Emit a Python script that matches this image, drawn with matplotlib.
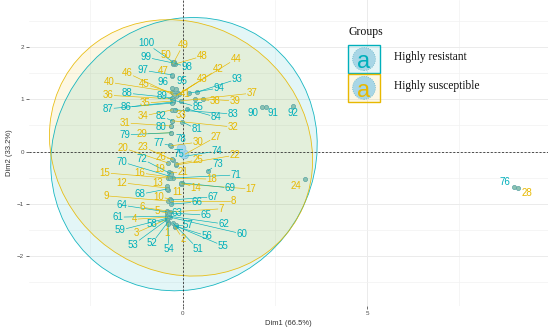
import numpy as np
import matplotlib
matplotlib.use("Agg")
import matplotlib.pyplot as plt
from matplotlib.patches import Ellipse, Rectangle

plt.rcParams['font.family'] = ['Liberation Sans', 'DejaVu Sans']

# PCA individuals: 1-50 highly susceptible, 51-100 highly resistant
ids = list(range(1, 101))
groups = ['Highly susceptible'] * 50 + ['Highly resistant'] * 50

pt_x = [-0.39, -0.20, -0.42, -0.42, -0.42, -0.42, -0.34, -0.31, -0.39, -0.34,
        -0.39, -0.42, -0.42, -0.01, -0.39, -0.34, -0.04, -0.26, -0.37, -0.39,
        -0.31, -0.18, -0.26, 3.32, -0.18, -0.28, 0.07, 9.09, -0.31, -0.31,
        -0.31, -0.28, -0.20, -0.28, -0.26, -0.28, -0.04, 0.34, 0.56, -0.28,
        -0.12, -0.15, -0.09, -0.18, -0.26, -0.23, -0.28, -0.20, -0.23, -0.26,
        -0.26, -0.39, -0.42, -0.39, -0.18, -0.20, -0.18, -0.42, -0.42, -0.34,
        -0.42, -0.37, -0.39, -0.42, -0.37, -0.31, -0.31, -0.42, -0.04, -0.37,
        -0.34, -0.31, 0.69, 0.07, 0.04, 8.98, -0.34, -0.01, -0.31, -0.31,
        -0.01, -0.28, -0.20, 0.12, -0.26, -0.26, -0.28, -0.28, -0.26, 2.15,
        2.26, 3.00, 0.39, 0.18, -0.18, -0.28, -0.28, -0.23, -0.26, -0.26]
pt_y = [-1.37, -1.45, -1.30, -1.26, -1.18, -1.14, -1.16, -0.95, -0.95, -0.91,
        -0.74, -0.70, -0.66, -0.60, -0.51, -0.49, -0.62, -0.51, -0.39, -0.22,
        -0.41, -0.26, -0.16, -0.53, -0.24, -0.14, -0.05, -0.70, 0.36, 0.11,
        0.49, 0.59, 0.80, 0.80, 0.97, 1.01, 0.97, 1.01, 1.01, 1.14,
        1.12, 1.08, 1.10, 1.07, 1.12, 1.08, 1.45, 1.68, 1.72, 1.68,
        -1.37, -1.35, -1.31, -1.39, -1.43, -1.43, -1.41, -1.30, -1.28, -1.26,
        -1.24, -1.24, -1.20, -1.16, -1.18, -1.01, -0.93, -0.72, -0.60, -0.47,
        -0.51, -0.43, -0.37, -0.09, -0.09, -0.68, 0.12, 0.11, 0.36, 0.49,
        0.57, 0.59, 0.80, 0.82, 0.99, 0.95, 0.93, 1.03, 0.99, 0.85,
        0.85, 0.87, 1.14, 1.12, 1.20, 1.22, 1.47, 1.70, 1.70, 1.72]

# repelled label positions
lab_x = [-0.42, 0.01, -1.26, -1.29, -0.69, -1.10, 1.04, 1.37, -2.07, -0.64,
         -0.15, -1.64, -0.66, 0.37, -2.10, -1.15, 1.86, 0.80, -0.61, -1.61,
         0.01, 1.42, -1.07, 3.08, 0.42, -0.58, 0.91, 9.33, -1.10, 0.42,
         -1.56, 1.37, -0.04, -1.07, -1.02, -2.02, 1.88, 0.88, 1.42, -1.99,
         0.07, 0.96, 0.53, 1.45, -1.04, -1.50, -0.53, 0.53, 0.01, -0.45,
         0.42, -0.83, -1.34, -0.37, 1.10, 0.66, 0.15, -0.83, -1.69, 1.61,
         -1.75, 1.12, -0.15, -1.64, 0.64, 0.39, 0.83, -1.15, 1.29, -1.64,
         1.45, -1.10, 0.96, 0.93, -0.09, 8.74, -0.64, -0.04, -1.56, -0.58,
         0.39, -0.58, 1.37, 0.91, 0.42, -1.53, -2.02, -1.50, -0.56, 1.91,
         2.45, 3.00, 1.48, 0.99, -0.01, -0.53, -1.07, 0.12, -0.99, -0.99]
lab_y = [-1.56, -1.68, -1.56, -1.30, -1.14, -1.07, -1.10, -0.95, -0.85, -0.87,
         -0.78, -0.60, -0.60, -0.70, -0.41, -0.41, -0.72, -0.53, -0.34, 0.07,
         -0.39, -0.07, 0.09, -0.66, -0.16, -0.11, 0.28, -0.80, 0.34, 0.18,
         0.55, 0.47, 0.70, 0.68, 0.93, 1.08, 1.12, 0.97, 0.97, 1.33,
         1.10, 1.58, 1.39, 1.78, 1.30, 1.51, 1.55, 1.83, 2.04, 1.85,
         -1.87, -1.76, -1.79, -1.87, -1.81, -1.62, -1.41, -1.39, -1.51, -1.58,
         -1.26, -1.39, -1.18, -1.03, -1.22, -0.97, -0.87, -0.82, -0.70, -0.20,
         -0.45, -0.14, -0.24, 0.01, -0.05, -0.59, 0.16, 0.24, 0.32, 0.47,
         0.43, 0.68, 0.72, 0.66, 0.85, 0.85, 0.82, 1.12, 1.07, 0.74,
         0.74, 0.74, 1.39, 1.22, 1.35, 1.33, 1.56, 1.62, 1.81, 2.08]

# group ellipses: centre, semi axes, angle
ell_res = dict(c=(0.04, -0.05), a=3.62, b=2.61, ang=6)
ell_sus = dict(c=(-0.04, 0.07), a=3.58, b=2.44, ang=-7)

col = {'Highly resistant': '#00AFBB', 'Highly susceptible': '#E7B800'}

fig = plt.figure(figsize=(5.5, 3.34), dpi=100)
ax = fig.add_axes([29/550, 28/334, 519/550, 306/334])
ax.set_xlim(-4.16, 9.905)
ax.set_ylim(-2.965, 2.908)

# grid
for v in [-2.5, 2.5, 7.5]:
    ax.axvline(v, color='#f2f2f2', lw=0.5, zorder=0)
for v in [0, 5]:
    ax.axvline(v, color='#ebebeb', lw=0.7, zorder=0)
for v in [-2.5, -1.5, -0.5, 0.5, 1.5, 2.5]:
    ax.axhline(v, color='#f2f2f2', lw=0.5, zorder=0)
for v in [-2, -1, 0, 1, 2]:
    ax.axhline(v, color='#ebebeb', lw=0.7, zorder=0)

for e, g in [(ell_res, 'Highly resistant'), (ell_sus, 'Highly susceptible')]:
    ax.add_patch(Ellipse(e['c'], 2*e['a'], 2*e['b'], angle=e['ang'],
                         facecolor=col[g], alpha=0.11, edgecolor='none', zorder=1))
    ax.add_patch(Ellipse(e['c'], 2*e['a'], 2*e['b'], angle=e['ang'],
                         facecolor='none', edgecolor=col[g], lw=0.6, alpha=0.9, zorder=2))

ax.axhline(0, color='#333333', lw=0.6, ls=(0, (2.5, 2)), zorder=3)
ax.axvline(0, color='#333333', lw=0.6, ls=(0, (2.5, 2)), zorder=3)

ax.scatter(pt_x, pt_y, s=9, facecolor='#8cc3b3', edgecolor='#5aa3a3',
           linewidth=0.5, zorder=4)
ax.scatter([ell_res['c'][0], ell_sus['c'][0]], [ell_res['c'][1], ell_sus['c'][1]],
           s=40, facecolor='#a8d6ea', edgecolor='#8cc6dc', linewidth=0.5, zorder=5)

texts = []
for i in range(100):
    t = ax.text(lab_x[i], lab_y[i], str(ids[i]), color=col[groups[i]],
                fontsize=7, ha='center', va='center', zorder=7)
    texts.append(t)

# segments from points to label boxes (ggrepel style)
fig.canvas.draw()
r = fig.canvas.get_renderer()
inv = ax.transData.inverted()
for i, t in enumerate(texts):
    bb = t.get_window_extent(r).expanded(1.15, 1.1)
    p = ax.transData.transform((pt_x[i], pt_y[i]))
    c = np.array([(bb.x0 + bb.x1) / 2, (bb.y0 + bb.y1) / 2])
    d = p - c
    sx = (bb.width / 2) / abs(d[0]) if d[0] != 0 else np.inf
    sy = (bb.height / 2) / abs(d[1]) if d[1] != 0 else np.inf
    s = min(sx, sy)
    if s >= 1:
        continue
    st = c + s * d
    if np.hypot(*(p - st)) < 4:
        continue
    a0 = inv.transform(st)
    ax.plot([a0[0], pt_x[i]], [a0[1], pt_y[i]], color=col[groups[i]], lw=0.45, zorder=6)

# legend
tr = ax.transAxes
ax.text(0.615, 0.895, 'Groups', transform=tr, fontsize=8.5, family='Liberation Serif',
        color='#111111', va='center', ha='left')
for k, g, y0 in [(0, 'Highly resistant', 0.761), (1, 'Highly susceptible', 0.667)]:
    ax.add_patch(Rectangle((0.615, y0), 0.061, 0.092, transform=tr, facecolor=col[g],
                           alpha=0.1, edgecolor='none', zorder=8))
    ax.add_patch(Rectangle((0.615, y0), 0.061, 0.092, transform=tr, facecolor='none',
                           edgecolor=col[g], lw=1.0, zorder=8))
    ax.add_patch(Ellipse((0.6455, y0 + 0.046), 0.044, 0.075, transform=tr,
                         facecolor='#a8d6e6', edgecolor='#6ab7c8', lw=0.6, ls=':', zorder=9))
    ax.text(0.6455, y0 + 0.036, 'a', transform=tr, color=col[g], fontsize=17,
            ha='center', va='center', zorder=10)
    ax.text(0.703, y0 + 0.052, g, transform=tr, fontsize=8.3, family='Liberation Serif',
            color='#111111', va='center', ha='left')

ax.set_xticks([0, 5])
ax.set_yticks([-2, -1, 0, 1, 2])
ax.tick_params(length=2, width=0.5, color='#333333', labelsize=4.5,
               labelcolor='#4d4d4d', pad=1.5)
for sp in ax.spines.values():
    sp.set_visible(False)
ax.set_xlabel('Dim1 (66.5%)', fontsize=5.5, color='#333333', labelpad=3)
ax.set_ylabel('Dim2 (33.2%)', fontsize=5.5, color='#333333', labelpad=3)

fig.savefig('out.png', dpi=100)
